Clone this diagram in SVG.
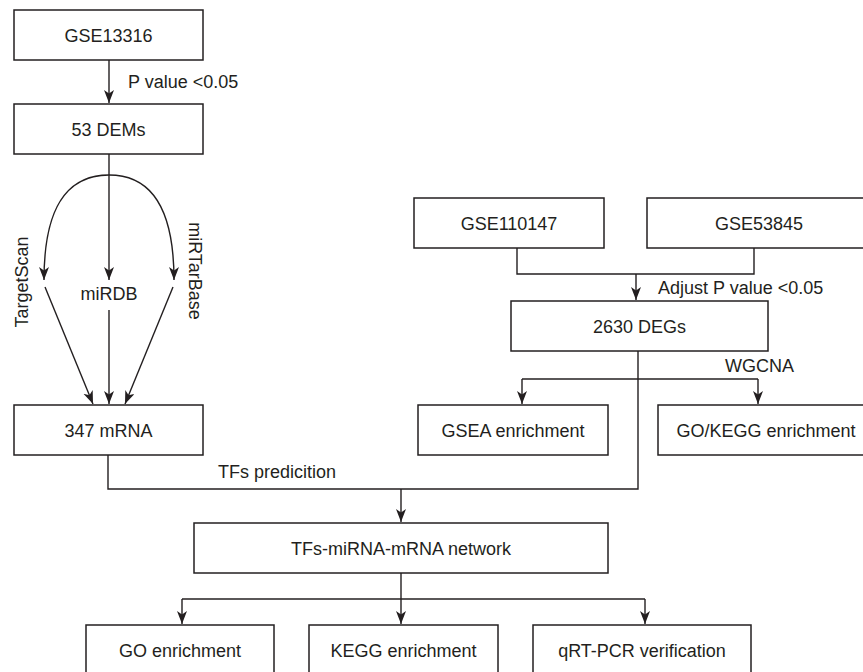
<svg xmlns="http://www.w3.org/2000/svg" width="863" height="672" viewBox="0 0 863 672">
<defs>
<style>
.box{fill:#fff;stroke:#231f20;stroke-width:1.5}
.t{font-family:"Liberation Sans",Arial,sans-serif;font-size:18px;fill:#231f20;text-anchor:middle}
.l{font-family:"Liberation Sans",Arial,sans-serif;font-size:18px;fill:#231f20}
.c{fill:none;stroke:#231f20;stroke-width:1.4}
.a{marker-end:url(#ah)}
</style>
<marker id="ah" markerUnits="userSpaceOnUse" markerWidth="15" markerHeight="12" refX="13" refY="5" orient="auto">
<path d="M0,0 L13,5 L0,10 L3.5,5 z" fill="#231f20"/>
</marker>
</defs>
<rect width="863" height="672" fill="#fff"/>
<g id="connectors">
<path class="c a" d="M109,60 V103"/>
<path class="c" d="M109,154 V175"/>
<path class="c a" d="M109,175 V280"/>
<path class="c a" d="M109,175 C64,175 44,212 44,280"/>
<path class="c a" d="M109,175 C154,175 174,212 174,280"/>
<path class="c a" d="M45,287 L93,404"/>
<path class="c a" d="M109,310 V404"/>
<path class="c a" d="M173,287 L125,404"/>
<path class="c" d="M517,248 V274 H754 V248"/>
<path class="c a" d="M636,274 V300"/>
<path class="c" d="M522,379 H758"/>
<path class="c a" d="M522,379 V404"/>
<path class="c a" d="M758,379 V404"/>
<path class="c" d="M108,455 V489 H638 V351"/>
<path class="c a" d="M401,489 V522"/>
<path class="c" d="M401,573 V599"/>
<path class="c" d="M182,599 H645"/>
<path class="c a" d="M182,599 V624"/>
<path class="c a" d="M401,599 V624"/>
<path class="c a" d="M645,599 V624"/>
</g>
<g id="edge-labels">
<text class="l" x="128" y="88">P value &lt;0.05</text>
<text class="t" transform="translate(28,282) rotate(-90)">TargetScan</text>
<text class="t" x="109" y="300">miRDB</text>
<text class="t" transform="translate(189,271) rotate(90)">miRTarBase</text>
<text class="l" x="658" y="294">Adjust P value &lt;0.05</text>
<text class="l" x="725" y="372">WGCNA</text>
<text class="l" x="218" y="478">TFs predicition</text>
</g>
<g id="n-gse13316"><rect class="box" x="14" y="10" width="189" height="50"/><text class="t" x="108.5" y="42">GSE13316</text></g>
<g id="n-dems"><rect class="box" x="14" y="104" width="189" height="50"/><text class="t" x="108.5" y="136">53 DEMs</text></g>
<g id="n-mrna"><rect class="box" x="14" y="405" width="189" height="50"/><text class="t" x="108.5" y="437">347 mRNA</text></g>
<g id="n-gse110147"><rect class="box" x="414" y="198" width="190" height="50"/><text class="t" x="509" y="230">GSE110147</text></g>
<g id="n-gse53845"><rect class="box" x="647" y="198" width="230" height="50"/><text class="t" x="759" y="230">GSE53845</text></g>
<g id="n-degs"><rect class="box" x="511" y="301" width="257" height="50"/><text class="t" x="639.5" y="333">2630 DEGs</text></g>
<g id="n-gsea"><rect class="box" x="418" y="405" width="190" height="50"/><text class="t" x="513" y="437">GSEA enrichment</text></g>
<g id="n-gokegg"><rect class="box" x="658" y="405" width="220" height="50"/><text class="t" x="766" y="437">GO/KEGG enrichment</text></g>
<g id="n-network"><rect class="box" x="194" y="523" width="414" height="50"/><text class="t" x="401" y="555">TFs-miRNA-mRNA network</text></g>
<g id="n-go"><rect class="box" x="86" y="625" width="188" height="50"/><text class="t" x="180" y="657">GO enrichment</text></g>
<g id="n-kegg"><rect class="box" x="309" y="625" width="189" height="50"/><text class="t" x="403.5" y="657">KEGG enrichment</text></g>
<g id="n-qrtpcr"><rect class="box" x="533" y="625" width="218" height="50"/><text class="t" x="642" y="657">qRT-PCR verification</text></g>
</svg>
